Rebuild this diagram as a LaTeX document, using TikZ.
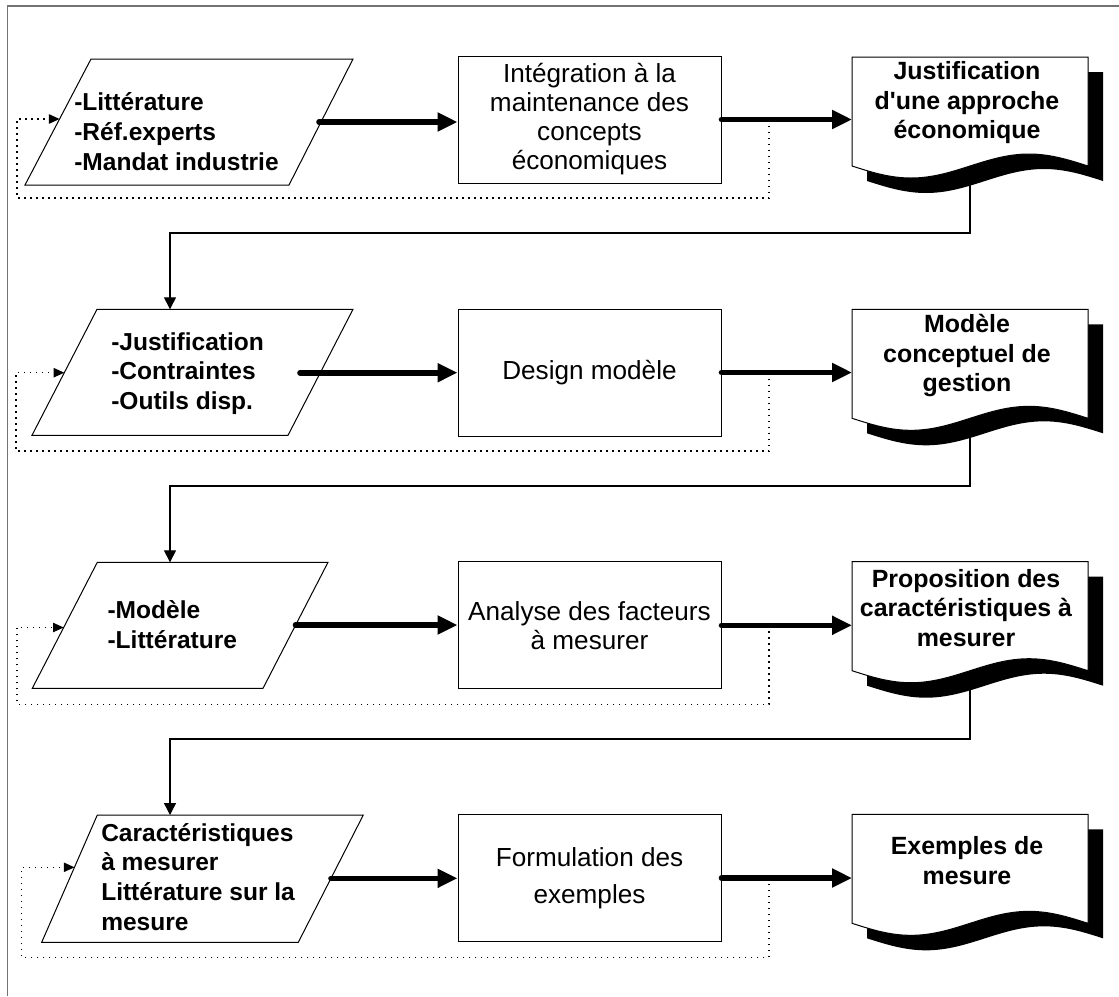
\documentclass[tikz,border=0pt]{standalone}
\usepackage{fontspec}
\setmainfont{Liberation Sans}[Ligatures=TeXOff]
\usetikzlibrary{arrows.meta}

\tikzset{
  frameline/.style={draw=black!55, line width=1.2pt},
  inbox/.style={draw, line width=0.75pt},
  intext/.style={font=\bfseries\fontsize{18.4pt}{22.2pt}\selectfont, align=left, inner sep=0pt, anchor=base west},
  procbox/.style={draw, line width=0.75pt, minimum width=197.25pt, minimum height=95.25pt,
    inner sep=0pt, align=center, font=\fontsize{19.6pt}{21.75pt}\selectfont},
  outtext/.style={font=\bfseries\fontsize{18.7pt}{22pt}\selectfont, align=center, inner sep=0pt, anchor=base},
  flow/.style={line width=4.2pt, line cap=round, -{Triangle[length=15pt,width=13.5pt]}},
  link/.style={line width=1pt, -{Triangle[length=9pt,width=9pt]}},
  feedback/.style={line width=0.9pt, dash pattern=on 0.9pt off 3.6pt, -{Triangle[length=8pt,width=7pt]}},
}

% document symbol with drop shadow: #1 = left x, #2 = top y
\newcommand\docshape[2]{%
  \fill[black] ({#1+15},{#2+15}) -- ({#1+251},{#2+15}) -- ({#1+251},{#2+124})
    sin ({#1+192},{#2+112}) cos ({#1+133},{#2+124}) sin ({#1+74},{#2+136}) cos ({#1+15},{#2+124}) -- cycle;
  \draw[line width=0.75pt, fill=white] (#1,#2) -- ({#1+236},#2) -- ({#1+236},{#2+109})
    sin ({#1+177},{#2+97}) cos ({#1+118},{#2+109}) sin ({#1+59},{#2+121}) cos (#1,{#2+109}) -- cycle;
}

\begin{document}
\begin{tikzpicture}[x=0.75pt,y=-0.75pt]
\useasboundingbox (0,0) rectangle (1119,996);

% outer frame
\draw[frameline] (7.3,996) -- (7.3,5.7) -- (1119,5.7);

% ---------- named points ----------
\coordinate (s1) at (319,122);   \coordinate (e1) at (852,119.5);
\coordinate (j1) at (769,119.5); \coordinate (c1) at (17,198);    \coordinate (f1) at (59.6,119);
\coordinate (b1) at (970,166);   \coordinate (h1) at (970,233);   \coordinate (t2) at (170,309.3);

\coordinate (s2) at (300,372.7); \coordinate (e2) at (852,372.5);
\coordinate (j2) at (769,372.5); \coordinate (c2) at (16,451);    \coordinate (f2) at (64.3,372.7);
\coordinate (b2) at (970,418.3); \coordinate (h2) at (970,486);   \coordinate (t3) at (170,562.3);

\coordinate (s3) at (295.5,625); \coordinate (e3) at (852,625.3);
\coordinate (j3) at (769,625.3); \coordinate (c3) at (17,704.3);  \coordinate (f3) at (63.7,627.5);
\coordinate (b3) at (970,670.7); \coordinate (h3) at (970,739);   \coordinate (t4) at (170,815);

\coordinate (s4) at (331,878.3); \coordinate (e4) at (852,878);
\coordinate (j4) at (769,878);   \coordinate (c4) at (21.7,957.3); \coordinate (f4) at (74.5,867.3);

% ---------- links between stages (behind the documents) ----------
\draw[link] (b1) -- (h1) -| (t2);
\draw[link] (b2) -- (h2) -| (t3);
\draw[link] (b3) -- (h3) -| (t4);

% ---------- feedback loops ----------
\draw[feedback] (j1) |- (c1) |- (f1);
\draw[feedback] (j2) |- (c2) |- (f2);
\draw[feedback] (j3) |- (c3) |- (f3);
\draw[feedback] (j4) |- (c4) |- (f4);

% ---------- inputs (text placed by the baseline of its last line) ----------
\draw[inbox] (91,59) -- (353,59) -- (289,185) -- (25,185) -- cycle;
\node[intext] (i1) at (74,170) {-Littérature\\-Réf.experts\\-Mandat industrie};

\draw[inbox] (97,309.3) -- (353,309.3) -- (288,435.3) -- (32,435.3) -- cycle;
\node[intext] (i2) at (111,409.5) {-Justification\\-Contraintes\\-Outils disp.};

\draw[inbox] (97.3,562.3) -- (328,562.3) -- (263,688.3) -- (32.3,688.3) -- cycle;
\node[intext] (i3) at (107.3,648.3) {-Modèle\\-Littérature};

\draw[inbox] (97.3,815) -- (363.3,815) -- (298.3,942.3) -- (41.7,942.3) -- cycle;
\node[intext] (i4) at (101,930) {Caractéristiques\\à mesurer\\Littérature sur la\\mesure};

% ---------- processes ----------
\node[procbox] (p1) at (589.5,119.5) {Intégration à la\\maintenance des\\concepts\\économiques};
\node[procbox] (p2) at (589.5,372.5) {Design modèle};
\node[procbox] (p3) at (589.5,625.3) {Analyse des facteurs\\à mesurer};
\node[procbox, font=\fontsize{19.6pt}{27.5pt}\selectfont] (p4) at (589.5,878) {Formulation des\\exemples};

% ---------- outputs ----------
\docshape{852}{57}
\node[outtext] (d1) at (967,138.5) {Justification\\d'une approche\\économique};
\docshape{852}{309.3}
\node[outtext] (d2) at (967,391.5) {Modèle\\conceptuel de\\gestion};
\docshape{852}{561.7}
\node[outtext] (d3) at (966,646) {Proposition des\\caractéristiques à\\mesurer};
\docshape{852}{814.3}
\node[outtext] (d4) at (967,884) {Exemples de\\mesure};

% ---------- main flow ----------
\draw[flow] (s1) -- (s1 -| p1.west);
\draw[flow] (p1.east) -- (e1);
\draw[flow] (s2) -- (s2 -| p2.west);
\draw[flow] (p2.east) -- (e2);
\draw[flow] (s3) -- (s3 -| p3.west);
\draw[flow] (p3.east) -- (e3);
\draw[flow] (s4) -- (s4 -| p4.west);
\draw[flow] (p4.east) -- (e4);

\end{tikzpicture}
\end{document}
